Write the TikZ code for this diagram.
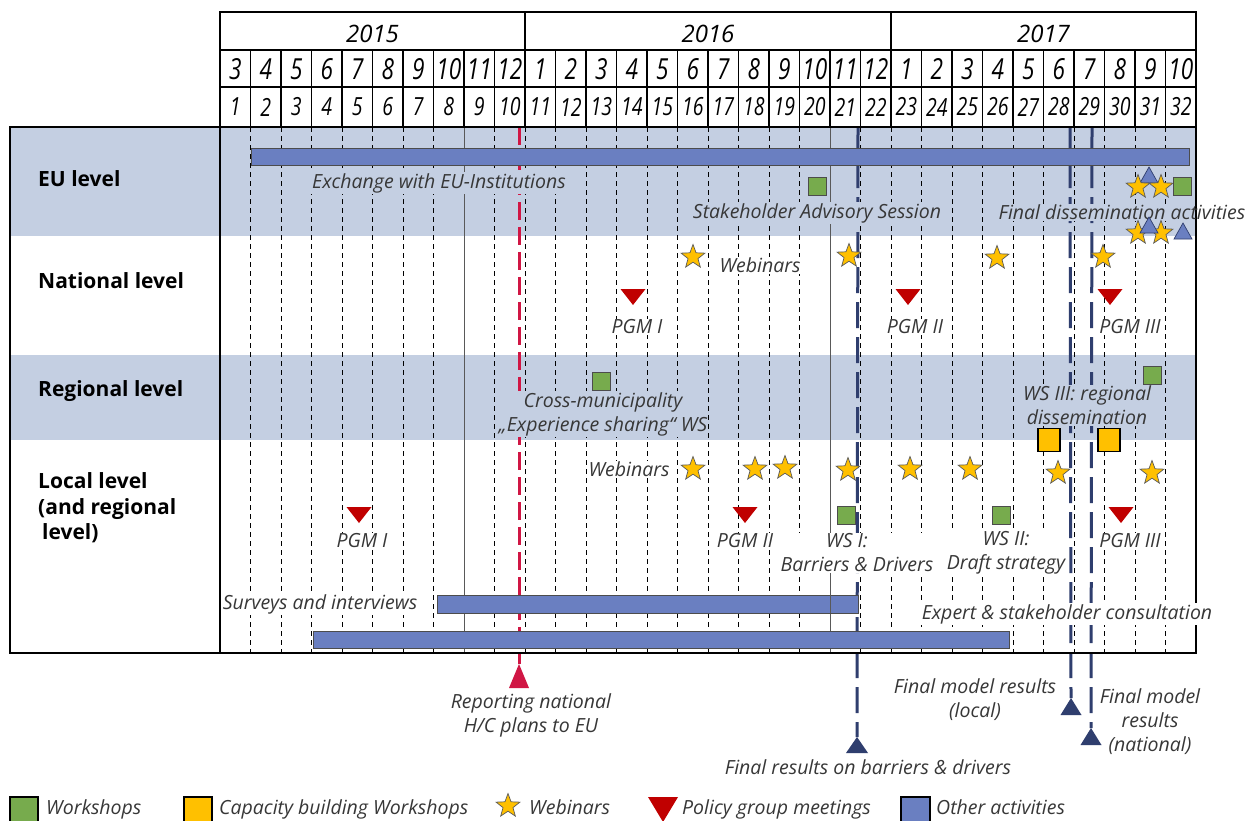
\documentclass[tikz,border=0pt]{standalone}
\usepackage{fontspec}
\setmainfont{Open Sans}
\newfontfamily\condfont[FakeStretch=0.78]{Open Sans}
\usetikzlibrary{shapes.geometric}
\definecolor{band}{RGB}{196,207,226}
\definecolor{barfill}{RGB}{106,127,193}
\definecolor{wsgreen}{RGB}{119,171,77}
\definecolor{cbyellow}{RGB}{255,192,0}
\definecolor{pgmred}{RGB}{192,0,0}
\definecolor{msred}{RGB}{208,22,68}
\definecolor{navy}{RGB}{47,62,110}
\definecolor{txtgray}{RGB}{55,55,55}
\begin{document}
\begin{tikzpicture}[x=1pt,y=-1pt,
  lbl/.style={font=\itshape\fontsize{19.5}{24}\selectfont, text=txtgray, inner sep=1pt, align=center},
  lblb/.style={lbl, fill=band},
  lblw/.style={lbl, fill=white},
  rowlbl/.style={font=\bfseries\fontsize{21}{25.5}\selectfont, anchor=west, inner sep=0pt, align=left, text=black},
  yeartxt/.style={font=\itshape\fontsize{24}{24}\selectfont, inner sep=0pt},
  monthtxt/.style={font=\condfont\itshape\fontsize{29}{29}\selectfont, inner sep=0pt},
  numtxt/.style={font=\condfont\itshape\fontsize{25}{25}\selectfont, inner sep=0pt},
  gridl/.style={black, line width=0.7pt, dash pattern=on 5pt off 4pt},
  solidgrid/.style={black!65, line width=0.9pt},
  hdr/.style={black, line width=1.6pt},
  frame/.style={black, line width=1.8pt},
  actbar/.style={fill=barfill, draw=black!70, line width=0.8pt},
  wsq/.style={rectangle, minimum size=18pt, inner sep=0pt, fill=wsgreen, draw=black!70, line width=0.8pt},
  cbsq/.style={rectangle, minimum width=22pt, minimum height=23pt, inner sep=0pt, fill=cbyellow, draw=black, line width=1.5pt},
  webstar/.style={star, star points=5, star point ratio=2.4, minimum size=25pt, inner sep=0pt, fill=cbyellow, draw=black!65, line width=0.7pt},
  redline/.style={msred, line width=3pt, dash pattern=on 18pt off 7pt},
  navyline/.style={navy, line width=3pt, dash pattern=on 26pt off 9pt},
  legtxt/.style={lbl, anchor=base west, inner sep=0pt},
  pgmtri/.pic={\path[fill=pgmred] (-12.5,-8) -- (12.5,-8) -- (0,8) -- cycle;},
  blutri/.pic={\path[fill=barfill, draw=navy, line width=0.7pt] (-9,8) -- (9,8) -- (0,-8) -- cycle;}
]
\clip (0,0) rectangle (1252,820);
\fill[white] (0,0) rectangle (1252,820);

% ---------- bands ----------
\fill[band] (10,127) rectangle (1196,236);
\fill[band] (10,355) rectangle (1196,440);

% ---------- grid lines ----------
\foreach \k in {1,...,31}{
  \ifnum\k=8 \else \ifnum\k=20 \else
    \draw[gridl] ({220+30.5*\k},127) -- ({220+30.5*\k},653);
  \fi\fi
}
\draw[solidgrid] ({220+30.5*8},127) -- ({220+30.5*8},653);
\draw[solidgrid] ({220+30.5*20},127) -- ({220+30.5*20},653);

% ---------- milestone lines ----------
\coordinate (r1t) at (519,127);  \coordinate (r1) at (519,664);
\coordinate (n1t) at (858,127);  \coordinate (n1) at (857,737);
\coordinate (n2t) at (1070,127); \coordinate (n2) at (1071,698);
\coordinate (n3t) at (1092,127); \coordinate (n3) at (1091,728);
\draw[redline] (r1t) -- (r1);
\draw[navyline] (n1t) -- (n1);
\draw[navyline] (n2t) -- (n2);
\draw[navyline] (n3t) -- (n3);
\fill[msred] (r1) -- ++(-10,24) -- ++(20,0) -- cycle;
\fill[navy] (n1) -- ++(-11,16) -- ++(22,0) -- cycle;
\fill[navy] (n2) -- ++(-10.5,17) -- ++(21,0) -- cycle;
\fill[navy] (n3) -- ++(-10.5,17) -- ++(21,0) -- cycle;

% ---------- activity bars ----------
\draw[actbar] (251,148) rectangle (1189,165);
\draw[actbar] (437,595) rectangle (858,613);
\draw[actbar] (313,631) rectangle (1009,648);
\draw[solidgrid] ({220+30.5*20},595) -- ({220+30.5*20},613);

% ---------- frame and header ----------
\draw[frame] (10,127) rectangle (1196,653);
\draw[frame] (220,127) -- (220,653);
\draw[hdr] (220,12) rectangle (1196,127);
\draw[hdr] (220,50) -- (1196,50);
\draw[hdr] (220,87) -- (1196,87);
\draw[hdr] ({220+30.5*10},12) -- ({220+30.5*10},50);
\draw[hdr] ({220+30.5*22},12) -- ({220+30.5*22},50);
\foreach \k in {1,...,31}{
  \draw[hdr] ({220+30.5*\k},50) -- ({220+30.5*\k},127);
}
\node[yeartxt] (y15) at ({220+30.5*5},34) {2015};
\node[yeartxt] (y16) at ({220+30.5*16},34) {2016};
\node[yeartxt] (y17) at ({220+30.5*27},34) {2017};
\foreach \m [count=\i] in {3,4,5,6,7,8,9,10,11,12,1,2,3,4,5,6,7,8,9,10,11,12,1,2,3,4,5,6,7,8,9,10}{
  \node[monthtxt] (mo\i) at ({220+30.5*(\i-0.5)},69) {\m};
}
\foreach \i in {1,...,32}{
  \node[numtxt] (nu\i) at ({220+30.5*(\i-0.5)},107) {\i};
}

% ---------- row labels ----------
\node[rowlbl] (lEU) at (38,179) {EU level};
\node[rowlbl] (lNat) at (38,281) {National level};
\node[rowlbl] (lReg) at (38,391) {Regional level};
\node[rowlbl] (lLoc) at (38,508) {Local level\\(and regional\\\hspace*{4pt}level)};

% ---------- text labels ----------
\node[lblb] (tExch) at (439,183) {Exchange with EU-Institutions};
\node[lblb] (tSAS) at (817,213) {Stakeholder Advisory Session};
\begin{scope}
  \clip (221,127) rectangle (1194,653);
  \node[lblb, text opacity=0] (tFDAbg) at (1122,212) {Final dissemination activities};
\end{scope}
\node[lbl] (tFDA) at (1122,212) {Final dissemination activities};

\node[lblw] (tWebN) at (760,265) {Webinars};
\node[lblw] (tPGM1n) at (637,327) {PGM I};
\node[lblw] (tPGM2n) at (915,327) {PGM II};
\node[lblw] (tPGM3n) at (1130,327) {PGM III};

\node[lblb] (tCross) at (603,414) {Cross-municipality\\„Experience sharing“ WS};
\node[lblb] (tWS3) at (1087,405) {WS III: regional\\dissemination};

\node[lblw] (tWebL) at (629,469) {Webinars};
\node[lblw] (tPGM1l) at (362,541) {PGM I};
\node[lblw] (tPGM2l) at (745,541) {PGM II};
\node[lblw] (tWS1) at (857,553) {\hspace*{-20pt}WS I:\\Barriers \& Drivers};
\node[lblw] (tWS2) at (1006,553) {WS II:\\Draft strategy};
\node[lblw] (tPGM3l) at (1130,541) {PGM III};
\node[lblw] (tSurv) at (320,604) {Surveys and interviews};
\node[lblw] (tExp) at (1067,614) {Expert \& stakeholder consultation};

\node[lbl] (tRep) at (531,715) {Reporting national\\H/C plans to EU};
\node[lbl] (tFRB) at (868,767) {Final results on barriers \& drivers};
\node[lbl] (tFML) at (975,700) {Final model results\\(local)};
\node[lbl] (tFMN) at (1150,722) {Final model\\results\\(national)};

% ---------- markers: EU level ----------
\node[wsq] (euws1) at (817,186) {};
\pic (eutri1) at (1149,175) {blutri};
\node[webstar] (eust1) at (1138,187) {};
\node[webstar] (eust2) at (1161,187) {};
\node[wsq] (euws2) at (1182,186) {};
\node[webstar] (eust3) at (1138,233) {};
\node[webstar] (eust4) at (1161,233) {};
\pic (eutri2) at (1149,225) {blutri};
\pic (eutri3) at (1183,231) {blutri};

% ---------- markers: national level ----------
\node[webstar] (nst1) at (693,257) {};
\node[webstar] (nst2) at (849,256) {};
\node[webstar] (nst3) at (997,258) {};
\node[webstar] (nst4) at (1103,257) {};
\pic (npgm1) at (633,297) {pgmtri};
\pic (npgm2) at (908,297) {pgmtri};
\pic (npgm3) at (1110,297) {pgmtri};

% ---------- markers: regional level ----------
\node[wsq] (rws1) at (601,381) {};
\node[wsq] (rws2) at (1152,375) {};
\node[cbsq] (rcb1) at (1049,440) {};
\node[cbsq] (rcb2) at (1109,440) {};

% ---------- markers: local level ----------
\foreach \sx/\sy [count=\j] in {693/469,755/469,785/468,848/470,910/469,970/469,1058/473,1152/473}{
  \node[webstar] (lst\j) at (\sx,\sy) {};
}
\pic (lpgm1) at (359,515) {pgmtri};
\pic (lpgm2) at (745,515) {pgmtri};
\pic (lpgm3) at (1121,515) {pgmtri};
\node[wsq] (lws1) at (846,515) {};
\node[wsq] (lws2) at (1001,515) {};

% ---------- legend ----------
\draw[fill=wsgreen, draw=black, line width=1.5pt] (10,797) rectangle (38,826);
\node[legtxt] (lgWS) at (46,814) {Workshops};
\draw[fill=cbyellow, draw=black, line width=1.5pt] (184,797) rectangle (212,826);
\node[legtxt] (lgCB) at (219,814) {Capacity building Workshops};
\node[webstar] (lgst) at (508,806) {};
\node[legtxt] (lgWeb) at (529,814) {Webinars};
\fill[pgmred] (648,797) -- (678,797) -- (663,822) -- cycle;
\node[legtxt] (lgPGM) at (682,814) {Policy group meetings};
\draw[fill=barfill, draw=black, line width=1.5pt] (901,797) rectangle (930,826);
\node[legtxt] (lgOA) at (936,814) {Other activities};
\end{tikzpicture}
\end{document}
